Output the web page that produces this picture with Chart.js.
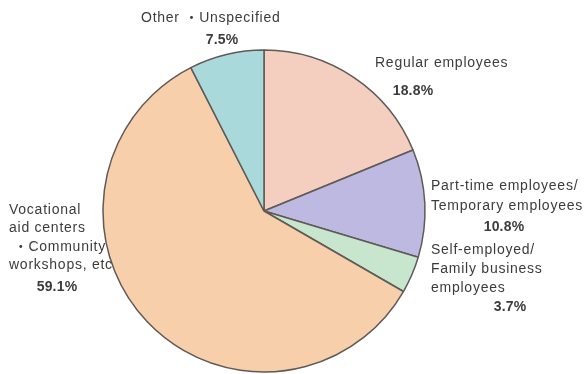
<!DOCTYPE html>
<html>
<head>
<meta charset="utf-8">
<script src="https://cdn.jsdelivr.net/npm/chart.js@4/dist/chart.umd.min.js"></script>
<style>
  html, body { margin: 0; padding: 0; background: #ffffff; }
  #wrap { width: 584px; height: 374px; }
</style>
</head>
<body>
<div id="wrap"><canvas id="c" width="584" height="374"></canvas></div>
<script>
// Employment situation breakdown, clockwise from 12 o'clock
const categories = [
  ['Regular employees'],
  ['Part-time employees/', 'Temporary employees'],
  ['Self-employed/', 'Family business', 'employees'],
  ['Vocational', 'aid centers', ' ・Community', 'workshops, etc'],
  ['Other ・Unspecified']
];
const shares = [18.8, 10.8, 3.7, 59.1, 7.5];
const sliceColors = ['#f4cfbf', '#bdb9e1', '#c7e6cd', '#f7cfab', '#aad9dc'];

// Where each caption block sits around the pie (x, y of first line, line gap, percent x, percent y)
const captionPlacement = [
  { x: 375, y: 63,  gap: 0,  px: 413, py: 91 },
  { x: 431, y: 186, gap: 20, px: 504, py: 227 },
  { x: 431, y: 250, gap: 19, px: 510, py: 307 },
  { x: 9,   y: 210, gap: 18.5, px: 57, py: 287 },
  { x: 141, y: 18,  gap: 0,  px: 222, py: 40 }
];

const captions = {
  id: 'captions',
  afterDraw(chart) {
    const ctx = chart.ctx;
    ctx.save();
    ctx.fillStyle = '#3c3c3c';
    ctx.textBaseline = 'middle';
    categories.forEach((lines, i) => {
      const p = captionPlacement[i];
      ctx.font = '14px "Liberation Sans", Arial, "Noto Sans CJK JP", sans-serif';
      ctx.letterSpacing = '0.75px';
      ctx.textAlign = 'left';
      lines.forEach((t, k) => ctx.fillText(t, p.x, p.y + k * p.gap));
      ctx.font = 'bold 14px "Liberation Sans", Arial, sans-serif';
      ctx.letterSpacing = '0.2px';
      ctx.textAlign = 'center';
      ctx.fillText(shares[i].toFixed(1) + '%', p.px, p.py);
    });
    ctx.restore();
  }
};

new Chart(document.getElementById('c'), {
  type: 'pie',
  data: {
    labels: categories.map(l => l.join(' ')),
    datasets: [{
      data: shares,
      backgroundColor: sliceColors,
      borderColor: '#5f5a57',
      borderWidth: 1.5
    }]
  },
  options: {
    responsive: false,
    animation: false,
    radius: 161,
    layout: { padding: { left: 0, right: 56, top: 48, bottom: 0 } },
    plugins: {
      legend: { display: false },
      tooltip: { enabled: false }
    }
  },
  plugins: [captions]
});
</script>
</body>
</html>
